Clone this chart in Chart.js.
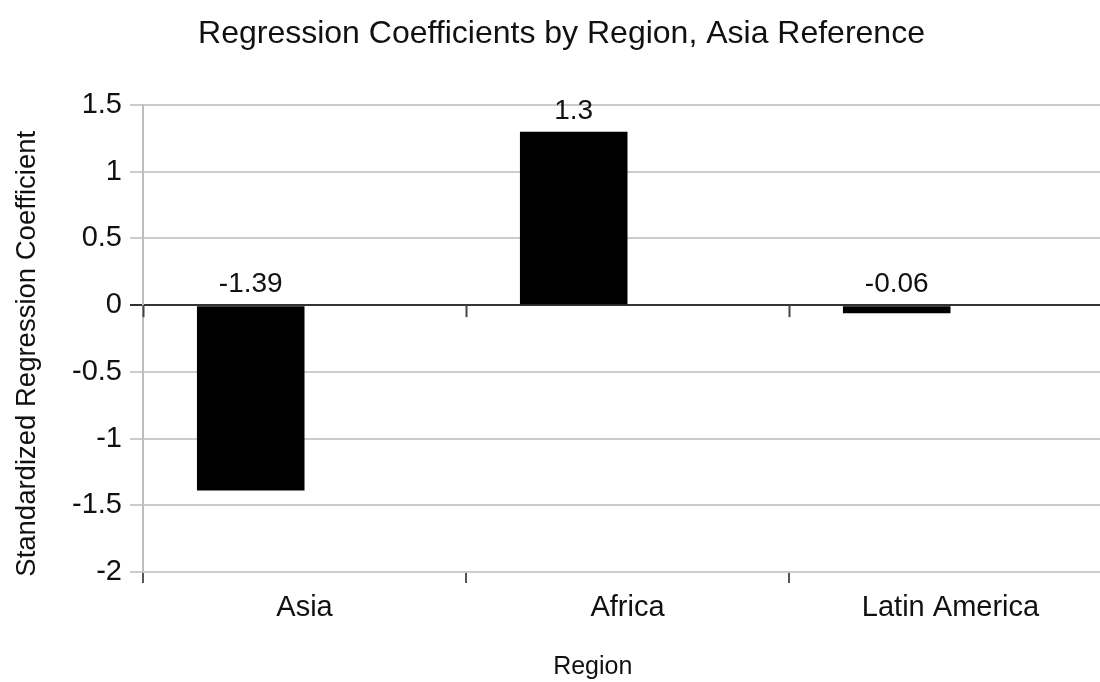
<!DOCTYPE html>
<html>
<head>
<meta charset="utf-8">
<script src="https://cdn.jsdelivr.net/npm/chart.js@4/dist/chart.umd.min.js"></script>
<style>
  html, body { margin: 0; padding: 0; background: #fff; overflow: hidden; }
  #wrap { width: 1112px; height: 682px; }
</style>
</head>
<body>
<div id="wrap"><canvas id="c" width="1112" height="682"></canvas></div>
<script>
// Regression coefficients by region (Asia as reference group)
const regions = ['Asia', 'Africa', 'Latin America'];
const coefficients = [-1.39, 1.3, -0.06];
const yTicks = [-2, -1.5, -1, -0.5, 0, 0.5, 1, 1.5];

const FONT = "'Liberation Sans', Arial, Helvetica, sans-serif";
const TEXT = '#111111';

// Value labels sit just above the bar, or above the zero line for negative bars
const valueLabels = {
  id: 'valueLabels',
  afterDatasetsDraw(chart) {
    const { ctx } = chart;
    const y = chart.scales.y;
    const meta = chart.getDatasetMeta(0);
    ctx.save();
    ctx.font = '28px ' + FONT;
    ctx.fillStyle = TEXT;
    ctx.textAlign = 'center';
    ctx.textBaseline = 'alphabetic';
    meta.data.forEach((bar, i) => {
      const v = coefficients[i];
      const base = y.getPixelForValue(Math.max(v, 0));
      ctx.fillText(String(v), bar.x, base - 13);
    });
    ctx.restore();
  }
};

// Short category divider ticks hanging below the zero line
const zeroTicks = {
  id: 'zeroTicks',
  afterDatasetsDraw(chart) {
    const { ctx } = chart;
    const x = chart.scales.x;
    const y0 = chart.scales.y.getPixelForValue(0);
    const n = regions.length;
    const step = (x.right - x.left) / n;
    ctx.save();
    ctx.strokeStyle = '#444';
    ctx.lineWidth = 2;
    for (let i = 0; i < n; i++) {
      const px = Math.round(x.left + i * step) + 0.5;
      ctx.beginPath();
      ctx.moveTo(px, y0);
      ctx.lineTo(px, y0 + 12);
      ctx.stroke();
    }
    ctx.restore();
  }
};

new Chart(document.getElementById('c'), {
  type: 'bar',
  data: {
    labels: regions,
    datasets: [
      { data: coefficients, backgroundColor: '#000000', borderWidth: 0 },
      { data: regions.map(() => null), backgroundColor: '#000000', borderWidth: 0 }
    ]
  },
  options: {
    responsive: false,
    animation: false,
    devicePixelRatio: 1,
    layout: { padding: { left: 11, right: 0, top: 0, bottom: 0 } },
    categoryPercentage: 0.666,
    barPercentage: 1.0,
    plugins: {
      legend: { display: false },
      tooltip: { enabled: false },
      title: {
        display: true,
        text: 'Regression Coefficients by Region, Asia Reference',
        color: TEXT,
        font: { family: FONT, size: 32, weight: 'normal', lineHeight: 1.2 },
        padding: { top: 15, bottom: 51.6 }
      }
    },
    scales: {
      x: {
        offset: true,
        afterFit(scale) { scale.height = 110; },
        border: { display: false },
        grid: {
          offset: true,
          drawOnChartArea: false,
          drawTicks: true,
          tickLength: 11,
          color: '#555555',
          lineWidth: 2
        },
        ticks: {
          color: TEXT,
          padding: 8,
          maxRotation: 0,
          font: { family: FONT, size: 29 }
        },
        title: {
          display: true,
          text: 'Region          ',
          color: TEXT,
          font: { family: FONT, size: 25, lineHeight: 1.2 },
          padding: { top: 0, bottom: 0 }
        }
      },
      y: {
        min: -2,
        max: 1.5,
        afterFit(scale) { scale.width = 132; },
        afterBuildTicks(scale) { scale.ticks = yTicks.map(v => ({ value: v })); },
        border: { display: true, color: '#bdbdbd', width: 2 },
        grid: {
          drawTicks: true,
          tickLength: 13,
          color: ctx => (ctx.tick && ctx.tick.value === 0 ? '#333333' : '#cccccc'),
          lineWidth: 2
        },
        ticks: {
          color: TEXT,
          padding: 8,
          font: { family: FONT, size: 29 },
          callback: v => String(v)
        },
        title: {
          display: true,
          text: 'Standardized Regression Coefficient    ',
          color: TEXT,
          font: { family: FONT, size: 27.5, lineHeight: 1.2 },
          padding: { top: 0, bottom: 0 }
        }
      }
    }
  },
  plugins: [valueLabels, zeroTicks]
});
</script>
</body>
</html>
